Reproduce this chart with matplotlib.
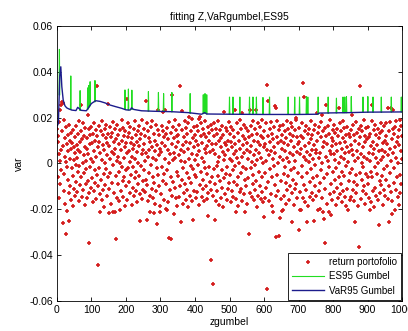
import numpy as np
import matplotlib
matplotlib.use("Agg")
import matplotlib.pyplot as plt

plt.rcParams['font.family'] = ['Liberation Sans', 'DejaVu Sans']

# portfolio returns, units of 1e-4, index 1..1000 (rows of 50)
ret_e4 = [
    150, 95, -60, 120, 40, -150, 180, 10, 233, -90, 60, 255, -30, 140, 269, -258, 75, 262, -120, 190,
    -45, 30, 110, -175, 5, -309, 160, -208, 85, -15, 125, -70, 55, -130, 170, -252, 20, 100, -100, 65,
    -160, 135, -20, 90, -55, 145, -185, 15, 70, -110,
    45, -140, 115, -5, 165, -80, 25, -125, 80, 130, -35, 60, -165, 185, -10, 95, -95, 50, 140, 255,
    -60, -145, 105, 0, 175, -115, 35, -40, 120, -180, 70, 155, -25, -90, 10, 110, -150, 65, 210, -75,
    40, -130, 150, -349, 85, -15, 125, -105, 20, 160,
    -65, 90, -170, 130, 5, -120, 175, 55, -30, 100, -85, 145, -155, 30, 338, -50, 120, -100, 70, -441,
    165, -20, 95, -135, -211, 45, 140, -70, 185, -160, 15, 80, -115, 125, -45, 60, -190, 150, 0, -95,
    110, -25, 170, -140, 35, 90, -60, 130, 260, -218,
    75, -110, 160, -40, 20, 115, -175, 50, -85, 135, -5, 180, -210, 95, -130, 40, 150, -212, 65, -55,
    -330, 105, -150, 10, 170, -90, 30, 125, -35, -165, 85, 145, -203, 0, 60, -120, 190, -15, 100, -75,
    155, -145, 25, 120, -60, 70, -185, 140, -30, 90,
    -100, 280, 45, -160, 115, -20, 175, -80, 55, 135, -130, 5, 160, -50, 90, -180, 30, 110, -105, 65,
    -15, 150, -140, 80, -65, 185, 20, -120, 125, -35, 95, -170, 50, 140, -90, 0, 165, -55, 75, -135,
    -252, 105, -10, 130, -155, 40, 190, -75, 60, -115,
    85, -30, 150, -125, 10, 120, 274, -70, 45, -246, 175, -95, 30, 140, -165, 60, -40, 110, -140, -210,
    95, -5, 160, -110, 70, 185, -60, 25, -150, -215, 130, -85, 55, -175, 100, 15, -120, 170, -20, 80,
    -262, 145, -50, 233, 35, -100, 125, -185, 65, -210,
    50, -135, 165, -15, 90, -75, 140, 226, -45, 115, -160, 20, 233, 75, -200, 130, -90, -203, 155, -30,
    60, -170, 105, 0, 180, -326, 40, -115, 135, -60, -328, 299, 85, -140, 15, 160, -80, 110, -221, 45,
    190, -105, 25, 145, -150, 70, -35, 120, -185, 95,
    -55, 125, -145, 35, 170, -100, 338, 60, -256, 10, 228, -70, 145, -175, 80, -20, 115, -130, 50, 185,
    -90, 5, 155, -160, 95, -40, 130, -115, 65, -190, 175, 20, -65, 204, -140, 90, -10, 140, -85, 193,
    40, -165, -248, 110, -25, 160, -120, 70, -50, 125,
    15, -150, 100, -60, 165, 35, -125, 140, -5, 80, -180, 196, 55, 204, -95, 120, -35, 175, -145, 25,
    90, -110, 150, -70, 5, 130, -165, 65, -20, 185, -100, 45, 115, -155, 75, -45, 160, -130, -230, 100,
    -15, 135, -80, 50, 170, -419, -115, 85, -60, 145,
    -524, 60, -140, 120, -25, 175, -90, -248, 40, 150, -165, 85, -10, 130, -120, 5, 185, -55, 100, -180,
    30, 145, -75, 70, -150, 110, -30, 165, -105, 50, -190, 125, 15, -65, 226, 90, -135, 35, 155, -45,
    80, -160, 140, -15, 100, -110, 60, 180, -85, 20,
    130, -50, 95, -170, 160, 10, -120, 70, -30, 145, -145, 40, 115, -80, 233, -10, 85, -155, -212, 55,
    175, -95, 25, 135, -60, -185, 100, 0, -125, 190, 65, -40, 150, -110, 222, 30, -165, 120, -15, 80,
    -135, 170, 45, -70, -212, 105, -25, 155, -100, 60,
    -175, 90, 20, 140, -65, 115, -309, 50, 233, -130, 75, -20, 165, -145, 5, 125, -90, 185, -50, 35,
    -160, 100, -5, 150, -115, 60, -75, 233, 130, -190, 15, 95, -140, 175, -35, 45, -100, 160, 80, -155,
    25, 120, -60, 190, -125, 0, 110, -170, 70, -233,
    140, -40, 85, -150, 175, 10, -105, 60, 341, -549, 120, 272, -80, 35, -165, 150, -25, 95, -135, 180,
    55, -60, 130, -185, 20, 105, -210, 70, -10, 160, 250, -95, 45, 243, -140, -320, 115, -50, 185, 0,
    -120, 90, 145, -315, 30, -236, 165, -75, 100, -155,
    65, 125, -206, 15, -203, 170, -45, 90, -140, 140, -15, 55, -175, 110, -85, 185, 25, -115, 150, -55,
    80, -160, 5, 130, -100, 45, 175, -30, 100, -254, -130, 160, 35, -70, 120, -180, 70, -20, 145, -110,
    10, 190, -90, 200, 50, -150, 115, -40, 85, -291,
    95, 155, -205, 40, -125, 120, -205, 65, -60, 175, -10, 110, 352, -150, 30, 291, -95, 140, -170, 75,
    15, -115, 165, -254, 50, -40, 130, -185, 90, 5, 150, -80, 35, -145, 185, -25, 105, -130, 60, 125,
    -65, 20, -160, 145, 80, -252, -5, 170, -100, 45,
    -140, 60, 221, 100, -55, 135, -205, 25, -120, 160, 45, -85, -200, 115, -30, 180, 0, 210, -150, -210,
    70, 140, -65, 95, -240, -349, 155, -110, 30, 120, 254, -45, 85, -175, 165, 10, -210, 130, -15, 55,
    -135, 190, -90, 40, -225, 110, -160, 75, 145, -35,
    100, -125, 40, 170, -70, 15, 135, -180, 85, -20, 150, -105, 55, -150, 120, 0, 243, -60, 90, -135,
    175, 30, -90, 140, -170, 65, -35, 110, -120, 185, 20, -55, 155, -145, 45, 95, -185, 125, -10, 70,
    -110, 160, 5, -205, 130, -75, 50, -160, 115, -40,
    80, -145, 145, 210, -25, 60, -115, 170, 35, -80, 125, -165, 10, -254, 100, -50, 180, -130, 55, 135,
    -95, 25, -185, 150, -364, 85, 338, -40, 115, -155, 40, 165, -70, 0, 140, -120, 70, -15, 190, -100,
    30, 120, -175, 95, -45, 155, -135, 20, 105, -60,
    160, -90, 45, -150, 115, 10, -205, 130, -35, 75, -170, 185, 255, -60, 95, -120, 40, 145, -190, 65,
    -15, 170, -105, 25, 125, -140, 80, -45, 150, 0, -160, 110, 55, -269, -75, 135, -130, 15, 175, -95,
    60, -55, 140, -180, 90, 30, -115, 165, -25, 100,
    -140, 50, 120, -70, 175, -10, 85, -155, 35, 240, -100, 140, -254, 65, -40, 180, 243, -125, 10, -220,
    105, -165, 150, 45, 235, -85, 130, -20, 70, -205, 160, -115, 25, 185, -60, 95, -145, 115, 0, -180,
    80, 145, -50, 190, -130, 55, -90, 165, 20, 120,
]

# VaR95 Gumbel (smooth line), read at knots
var_x = [1, 4, 8, 11, 14, 18, 23, 28, 33, 43, 55, 60, 64, 70, 85, 90, 95, 100, 112, 125,
         140, 154, 170, 187, 200, 212, 216, 222, 245, 280, 332, 380, 419, 428, 434, 500,
         600, 700, 755, 760, 850, 900, 1000]
var_y = [0.0165, 0.0175, 0.038, 0.0422, 0.0335, 0.0277, 0.0252, 0.0243, 0.0239, 0.0233,
         0.0231, 0.0245, 0.0240, 0.0232, 0.0230, 0.0240, 0.0252, 0.0262, 0.0274, 0.0271,
         0.0264, 0.0255, 0.0248, 0.0241, 0.0234, 0.0233, 0.0243, 0.0236, 0.0230, 0.0228,
         0.0226, 0.0222, 0.0215, 0.0222, 0.0216, 0.0215, 0.0214, 0.0214, 0.0215, 0.0220,
         0.0222, 0.0224, 0.0225]

# ES95 Gumbel spikes: position, top value, base value
es_x = [7, 40, 67, 89, 92, 96, 110, 197, 207, 217, 265, 294, 309, 333, 386, 424, 429, 434,
        500, 510, 530, 558, 568, 578, 597, 616, 670, 689, 703, 723, 727, 757, 786, 810,
        829, 834, 839, 853, 887, 901, 916, 940, 969, 998]
es_top = [0.0498, 0.0382, 0.0318, 0.0330, 0.0340, 0.0357, 0.0362, 0.0321, 0.0325, 0.0320,
          0.0314, 0.0310, 0.0305, 0.0310, 0.0305, 0.0300, 0.0305, 0.0300, 0.0290, 0.0290,
          0.0290, 0.0290, 0.0290, 0.0290, 0.0288, 0.0290, 0.0290, 0.0290, 0.0290, 0.0292,
          0.0290, 0.0290, 0.0290, 0.0285, 0.0290, 0.0290, 0.0292, 0.0292, 0.0290, 0.0292,
          0.0290, 0.0290, 0.0290, 0.0290]
es_base = [0.0300, 0.0236, 0.0232, 0.0237, 0.0244, 0.0252, 0.0270, 0.0236, 0.0234, 0.0236,
           0.0229, 0.0228, 0.0227, 0.0226, 0.0220, 0.0218, 0.0220, 0.0217, 0.0215, 0.0215,
           0.0215, 0.0215, 0.0215, 0.0215, 0.0214, 0.0214, 0.0214, 0.0214, 0.0214, 0.0214,
           0.0214, 0.0216, 0.0220, 0.0221, 0.0222, 0.0222, 0.0222, 0.0222, 0.0223, 0.0224,
           0.0224, 0.0224, 0.0225, 0.0225]

xticks = [0, 100, 200, 300, 400, 500, 600, 700, 800, 900, 1000]
yticks = [-0.06, -0.04, -0.02, 0, 0.02, 0.04, 0.06]
ylabels = ['-0.06', '-0.04', '-0.02', '0', '0.02', '0.04', '0.06']

ret = np.array(ret_e4) / 1e4
idx = np.arange(1, len(ret) + 1)

# green spikes as separate little segments
gx, gy = [], []
for s, t, b in zip(es_x, es_top, es_base):
    gx += [s - 1, s, s + 1, np.nan]
    gy += [b, t, b, np.nan]

fig = plt.figure(figsize=(4.08, 3.31), dpi=100)
ax = fig.add_axes([0.1397, 0.0906, 0.8456, 0.8309])

ax.plot(idx, ret, '+', color='#d41c1c', ms=3.0, mew=1.2, label='return portofolio')
ax.plot(gx, gy, '-', color='#22dd22', lw=0.8, label='ES95 Gumbel')
ax.plot(var_x, var_y, '-', color='#1c1c8c', lw=1.0, label='VaR95 Gumbel')

ax.set_xlim(0, 1000)
ax.set_ylim(-0.06, 0.06)
ax.set_xticks(xticks)
ax.set_yticks(yticks)
ax.set_yticklabels(ylabels)
ax.tick_params(direction='in', length=3, width=0.6, top=True, right=True,
               labelsize=7.5, pad=3)
for sp in ax.spines.values():
    sp.set_linewidth(0.6)

ax.set_title('fitting Z,VaRgumbel,ES95', fontsize=7.5, pad=4)
ax.set_xlabel('zgumbel', fontsize=7.5, labelpad=1)
ax.set_ylabel('var', fontsize=7.5, labelpad=4)

leg = ax.legend(loc='lower right', bbox_to_anchor=(1.0, 0.0), fontsize=7,
                fancybox=False, edgecolor='black', framealpha=1,
                handlelength=3.3, borderaxespad=0.15, borderpad=0.4,
                labelspacing=0.45, handletextpad=0.5)
leg.get_frame().set_linewidth(0.6)

fig.savefig('out.png', dpi=100)
